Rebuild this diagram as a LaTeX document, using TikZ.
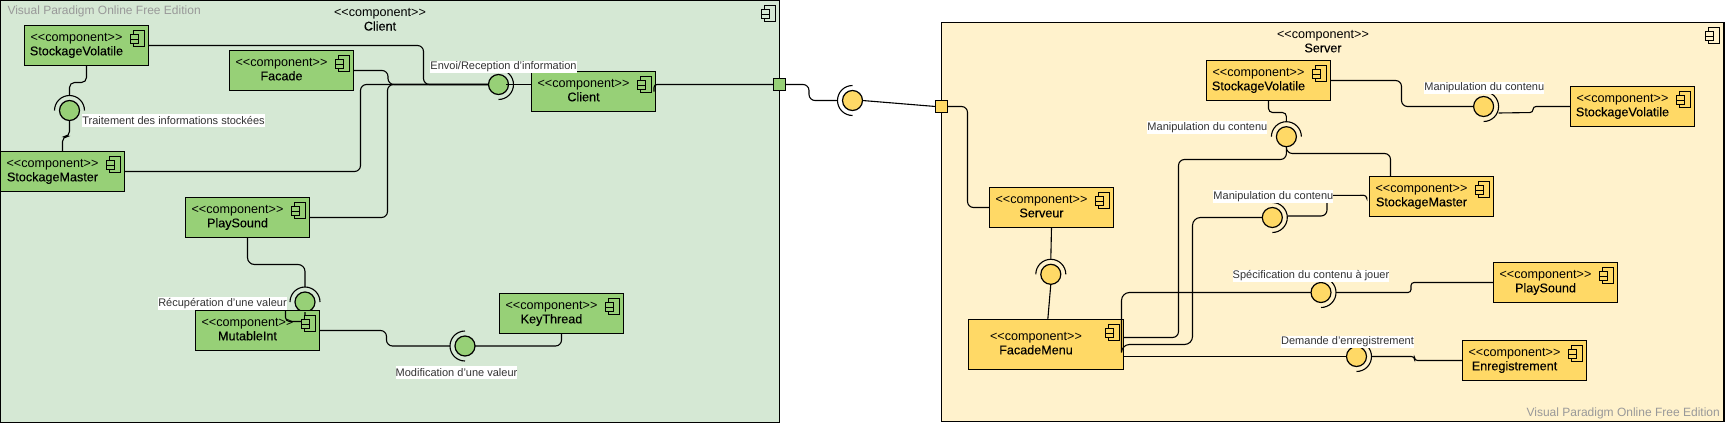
\documentclass[tikz,border=0pt]{standalone}
\usepackage{fontspec}
\setmainfont{Liberation Sans}
\newfontfamily\namefont[FakeBold=0.25]{Liberation Sans}
\definecolor{cfr}{HTML}{D5E8D4}
\definecolor{sfr}{HTML}{FFF2CC}
\definecolor{gr}{HTML}{97D077}
\definecolor{ye}{HTML}{FFD966}
\definecolor{lbl}{HTML}{333333}
\definecolor{wm}{HTML}{999999}
\tikzset{
  x=1pt,y=-1pt,
  frame/.style={draw=black,line width=1.1pt,rectangle,inner sep=0pt,outer sep=0pt,anchor=north west},
  comp/.style={draw=black,line width=1.1pt,rectangle,inner sep=0pt,outer sep=0pt,anchor=north west,minimum width=124pt,minimum height=40pt,font=\fontsize{12.6}{14}\selectfont},
  ball/.style={draw=black,line width=1.2pt,circle,inner sep=0pt,outer sep=0pt,minimum size=20pt},
  portbox/.style={draw=black,line width=1pt,rectangle,inner sep=0pt,outer sep=0pt,minimum size=12pt},
  sock/.style={line width=1.1pt},
  wire/.style={draw=black,line width=1.1pt,rounded corners=6pt},
  tightwire/.style={wire,rounded corners=3pt},
  widewire/.style={wire,rounded corners=8pt},
  plainwire/.style={draw=black,line width=1.1pt},
  lab/.style={fill=white,text=lbl,inner sep=0pt,minimum height=12.4pt,font=\fontsize{11}{12}\selectfont},
  ttl/.style={align=center,inner sep=0pt,font=\fontsize{12.6}{14}\selectfont},
  wmk/.style={text=wm,inner sep=0pt,font=\fontsize{12}{14}\selectfont},
}
\newcommand{\cicon}[2]{% node, fill
  \draw[line width=1pt,fill=#2] ([xshift=-15.5pt,yshift=-5pt]#1.north east) rectangle ([xshift=-4.5pt,yshift=-21pt]#1.north east);
  \draw[line width=1pt,fill=#2] ([xshift=-18.5pt,yshift=-9pt]#1.north east) rectangle ([xshift=-10.5pt,yshift=-13.5pt]#1.north east);
  \draw[line width=1pt,fill=#2] ([xshift=-18.5pt,yshift=-13.5pt]#1.north east) rectangle ([xshift=-10.5pt,yshift=-18pt]#1.north east);
}
\newcommand{\comp}[7][0pt]{% raise; name,x,y,fill,text; extra
  \node[comp,fill=#5,#7] (#2) at (#3,#4) {\raisebox{#1}{\hbox{\begin{tabular}{@{}c@{}}<{}<component>{}>\\{\namefont #6}\end{tabular}\kern20pt}}};
  \cicon{#2}{#5}
}
\begin{document}
\begin{tikzpicture}
\useasboundingbox (0,0) rectangle (1726,423);
% frames
\node[frame,fill=cfr,minimum width=779pt,minimum height=422pt] (clientframe) at (0.5,0.5) {};
\node[frame,fill=sfr,minimum width=782.5pt,minimum height=399pt] (serverframe) at (941.5,22.5) {};
\cicon{clientframe}{cfr}
\cicon{serverframe}{sfr}
\node[ttl] (clienttitle) at (380,19.5) {<{}<component>{}>\\{\namefont Client}};
\node[ttl] (servertitle) at (1323,41.3) {<{}<component>{}>\\{\namefont Server}};
\node[wmk,anchor=west] (wm1) at (7.3,11.7) {Visual Paradigm Online Free Edition};
\node[wmk,anchor=east] (wm2) at (1720,413.7) {Visual Paradigm Online Free Edition};
% ports and balls
\node[portbox,fill=gr] (pc) at (779.5,84.5) {};
\node[portbox,fill=ye] (ps) at (941.5,106.5) {};
\node[ball,fill=gr] (l1) at (69.5,110.5) {};
\node[ball,fill=gr] (l2) at (498.5,84.5) {};
\node[ball,fill=gr] (l3) at (305,302) {};
\node[ball,fill=gr] (l4) at (465,346) {};
\node[ball,fill=ye] (lx) at (852.5,100.5) {};
\node[ball,fill=ye] (s0) at (1050.8,274.3) {};
\node[ball,fill=ye] (s1) at (1483.6,106.5) {};
\node[ball,fill=ye] (s2) at (1286.4,136.7) {};
\node[ball,fill=ye] (s3) at (1272.3,217.5) {};
\node[ball,fill=ye] (s4) at (1321,292.5) {};
\node[ball,fill=ye] (s5) at (1356.5,356.5) {};
% sockets
\foreach \n in {l1,l3,s0,s2}{\draw[sock] ([xshift=15pt]\n.center) arc[start angle=0,end angle=180,radius=15pt];\coordinate (\n t) at ([yshift=15pt]\n.center);}
\foreach \n in {l2,s1,s3,s4,s5}{\draw[sock] ([yshift=15pt]\n.center) arc[start angle=90,end angle=-90,radius=15pt];\coordinate (\n t) at ([xshift=15pt]\n.center);}
\foreach \n in {l4,lx}{\draw[sock] ([yshift=15pt]\n.center) arc[start angle=90,end angle=270,radius=15pt];\coordinate (\n t) at ([xshift=-15pt]\n.center);}
% components
\comp{csv}{24.5}{25.5}{gr}{StockageVolatile}{}
\comp{cfa}{229.5}{50.5}{gr}{Facade}{}
\comp{csm}{0.5}{151.5}{gr}{StockageMaster}{}
\comp{cps}{185.5}{197.5}{gr}{PlaySound}{}
\comp{cmi}{195.5}{310.5}{gr}{MutableInt}{}
\comp{ccl}{531.5}{71.5}{gr}{Client}{}
\comp{ckt}{499.5}{293.5}{gr}{KeyThread}{}
\comp{ssr}{989.5}{187.5}{ye}{Serveur}{}
\comp[6.5pt]{sfm}{968.5}{319.5}{ye}{FacadeMenu}{minimum width=155pt,minimum height=50pt}
\comp{ssv}{1206.5}{60.5}{ye}{StockageVolatile}{}
\comp{ssw}{1570.5}{86.5}{ye}{StockageVolatile}{}
\comp{ssm}{1369.5}{176.5}{ye}{StockageMaster}{}
\comp{spl}{1493.5}{262.5}{ye}{PlaySound}{}
\comp{sen}{1462.5}{340.5}{ye}{Enregistrement}{}
% client wires
\draw[wire,rounded corners=5pt] (csv.south) -- (86.5,82.5) -- (69.5,82.5) -- (l1t);
\draw[wire,rounded corners=5pt] (csm.north) -- (62.5,136.5) -- (69.5,136.5) -- (l1.south);
\draw[wire] (csv.east) -- (423.5,45.5) -- (423.5,84.5) -- (l2.west);
\draw[wire] (cfa.east) -- (388,70.5) -- (388,84.5) -- (l2.west);
\draw[wire] (csm.east) -- (360.5,171.5) -- (360.5,84.5) -- (l2.west);
\draw[wire] (cps.east) -- (387.5,217.5) -- (387.5,84.5) -- (l2.west);
\draw[plainwire] (ccl.west |- l2) -- ([xshift=7.5pt]l2.center);
\draw[tightwire] ([xshift=-1.5pt]ccl.east) -- ([xshift=-1.5pt,yshift=7pt]ccl.east) -- (pc.west);
\draw[wire] (pc.east) -- (809,84.5) -- (809,100.5) -- (lxt);
\draw[plainwire] (lx.east) -- (ps.west);
\draw[wire,rounded corners=7pt] (cps.south) -- (247.5,264.5) -- (305,264.5) -- (l3t);
\draw[wire] (cmi.east) -- (386.5,330.5) -- (386.5,346) -- (l4t);
\draw[wire] (ckt.south) -- (561.5,346) -- (l4.east);
% wire that crosses MutableInt, under its icon
\draw[wire,rounded corners=4pt] ([xshift=-34pt]cmi.north east) -- (285.5,321.5) -- (305,321.5) -- (l3.south);
\cicon{cmi}{gr}
% server wires
\draw[wire] (ps.east) -- (967.5,106.5) -- (967.5,207.5) -- (ssr.west);
\draw[plainwire] (ssr.south) -- (s0t);
\draw[plainwire] (s0.south) -- ([xshift=1.8pt]sfm.north);
\draw[wire] (ssv.east) -- (1401.5,80.5) -- (1401.5,106.5) -- (s1.west);
\draw[tightwire] (ssw.west) -- (1533,106.5) -- (1533,112.5) -- ([yshift=-6.5pt]s1t);
\draw[wire,rounded corners=4pt] (ssv.south) -- (1268.5,112.5) -- (1286.4,112.5) -- (s2t);
\draw[wire] (s2.south) -- (1286.4,159.5) -- (1178.5,159.5) -- (1178.5,337.5) -- ([yshift=7pt]sfm.east);
\draw[wire] (s2.south) -- (1286.4,153.5) -- (1390.5,153.5) -- ([xshift=-41pt]ssm.north);
\draw[widewire] ([xshift=-2pt,yshift=-5.5pt]sfm.east) -- (1121.5,344.5) -- (1192.5,344.5) -- (1192.5,217.5) -- (s3.west);
\draw[wire] ([yshift=1.5pt]s3t) -- (1327,216) -- (1327,195.3) -- (1364,195.3);
\draw[tightwire] (1360,195.3) -- (1366.7,195.3) -- ([xshift=-2.8pt,yshift=-0.8pt]ssm.west);
\draw[widewire] ([xshift=-2pt,yshift=-5.5pt]sfm.east) -- (1121.5,292.5) -- (s4.west);
\draw[tightwire] (s4t) -- (1411,292.5) -- (1411,282.5) -- (spl.west);
\draw[plainwire] ([yshift=-12pt]sfm.east) -- (s5.west);
\draw[tightwire] (s5t) -- (1414.5,356.5) -- (1414.5,360.5) -- (sen.west);
% labels
\node[lab] (t1) at (173.5,120.5) {Traitement des informations stockées};
\node[lab] (t2) at (503.5,66.7) {Envoi/Reception d'information};
\node[lab] (t3) at (222.5,303.4) {Récupération d'une valeur};
\node[lab] (t4) at (456.5,372.3) {Modification d'une valeur};
\node[lab] (t5) at (1484.3,87.7) {Manipulation du contenu};
\node[lab] (t6) at (1207.4,127.5) {Manipulation du contenu};
\node[lab] (t7) at (1273.4,196.5) {Manipulation du contenu};
\node[lab] (t8) at (1311,276) {Spécification du contenu à jouer};
\node[lab] (t9) at (1347.5,341.7) {Demande d'enregistrement};
\end{tikzpicture}
\end{document}
